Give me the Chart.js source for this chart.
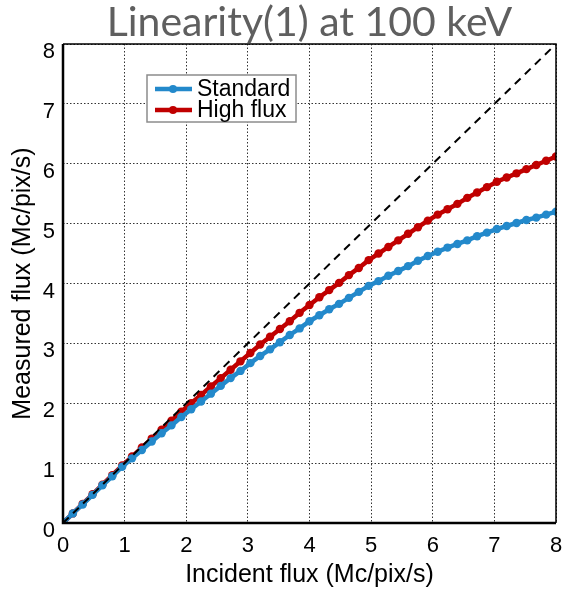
<!DOCTYPE html>
<html>
<head>
<meta charset="utf-8">
<script src="https://cdn.jsdelivr.net/npm/chart.js@4.4.1/dist/chart.umd.min.js"></script>
<style>
  html, body { margin: 0; padding: 0; background: #fff; }
  #wrap { width: 564px; height: 590px; }
</style>
</head>
<body>
<div id="wrap"><canvas id="linChart" width="564" height="590"></canvas></div>
<script>
// incident flux (Mc/pix/s), one sample every 0.16
const incident = [0, 0.16, 0.32, 0.48, 0.64, 0.80, 0.96, 1.12, 1.28, 1.44, 1.60, 1.76, 1.92,
  2.08, 2.24, 2.40, 2.56, 2.72, 2.88, 3.04, 3.20, 3.36, 3.52, 3.68, 3.84, 4.00, 4.16, 4.32,
  4.48, 4.64, 4.80, 4.96, 5.12, 5.28, 5.44, 5.60, 5.76, 5.92, 6.08, 6.24, 6.40, 6.56, 6.72,
  6.88, 7.04, 7.20, 7.36, 7.52, 7.68, 7.84, 8.00];

// measured flux
const standardFlux = [0, 0.16, 0.31, 0.47, 0.63, 0.78, 0.94, 1.08, 1.22, 1.36, 1.50, 1.63, 1.77,
  1.90, 2.03, 2.16, 2.29, 2.42, 2.54, 2.67, 2.79, 2.90, 3.02, 3.14, 3.25, 3.37, 3.47, 3.57,
  3.66, 3.76, 3.86, 3.96, 4.04, 4.13, 4.21, 4.29, 4.38, 4.46, 4.53, 4.60, 4.66, 4.72, 4.79,
  4.85, 4.91, 4.96, 5.01, 5.06, 5.10, 5.15, 5.20];

const highFlux = [0, 0.16, 0.32, 0.48, 0.64, 0.80, 0.96, 1.11, 1.26, 1.41, 1.56, 1.71, 1.86,
  2.00, 2.14, 2.28, 2.42, 2.56, 2.70, 2.84, 2.98, 3.11, 3.24, 3.37, 3.51, 3.64, 3.77, 3.89,
  4.01, 4.14, 4.26, 4.39, 4.50, 4.61, 4.72, 4.83, 4.94, 5.05, 5.15, 5.24, 5.33, 5.43, 5.52,
  5.61, 5.70, 5.77, 5.84, 5.91, 5.98, 6.05, 6.12];

// ideal response (measured = incident)
const idealX = [0, 8];
const idealY = [0, 8];

const seriesNames = ['Standard', 'High flux'];
const seriesColors = ['#2389cb', '#c00000'];

function toPoints(xs, ys) {
  return xs.map((x, i) => ({ x: x, y: ys[i] }));
}

// box round the plot: thick left/bottom, thin top/right
const frame = {
  id: 'frame',
  afterDatasetsDraw(chart) {
    const { ctx, chartArea: a } = chart;
    ctx.save();
    ctx.strokeStyle = '#000';
    ctx.lineWidth = 1.5;
    ctx.beginPath();
    ctx.moveTo(a.left, a.top);
    ctx.lineTo(a.right, a.top);
    ctx.lineTo(a.right, a.bottom);
    ctx.stroke();
    ctx.lineWidth = 2.5;
    ctx.beginPath();
    ctx.moveTo(a.left, a.top);
    ctx.lineTo(a.left, a.bottom);
    ctx.lineTo(a.right, a.bottom);
    ctx.stroke();
    ctx.restore();
  }
};

// legend drawn inside the plot like the original
const insideLegend = {
  id: 'insideLegend',
  afterDraw(chart) {
    const ctx = chart.ctx;
    const x0 = 147, y0 = 75, w = 149, h = 47;
    ctx.save();
    ctx.fillStyle = '#fff';
    ctx.fillRect(x0, y0, w, h);
    ctx.strokeStyle = '#8c8c8c';
    ctx.lineWidth = 1.5;
    ctx.strokeRect(x0, y0, w, h);
    ctx.font = '23px "Liberation Sans", Arial, sans-serif';
    ctx.textBaseline = 'middle';
    chart.data.datasets.slice(0, 2).forEach((ds, i) => {
      const y = y0 + 14 + i * 21;
      ctx.strokeStyle = ds.borderColor;
      ctx.lineWidth = 4.5;
      ctx.beginPath();
      ctx.moveTo(x0 + 8, y);
      ctx.lineTo(x0 + 45, y);
      ctx.stroke();
      ctx.fillStyle = ds.borderColor;
      ctx.beginPath();
      ctx.arc(x0 + 26, y, 4, 0, Math.PI * 2);
      ctx.fill();
      ctx.fillStyle = '#000';
      ctx.fillText(ds.label, x0 + 50, y + 1);
    });
    ctx.restore();
  }
};

const tickFont = { family: '"Liberation Sans", Arial, sans-serif', size: 22 };
const titleFont = { family: '"Liberation Sans", Arial, sans-serif', size: 25 };

new Chart(document.getElementById('linChart'), {
  type: 'scatter',
  data: {
    datasets: [
      {
        label: seriesNames[0],
        data: toPoints(incident, standardFlux),
        showLine: true,
        borderColor: seriesColors[0],
        backgroundColor: seriesColors[0],
        borderWidth: 4.5,
        pointRadius: 4.2,
        pointBorderWidth: 0,
        order: 1
      },
      {
        label: seriesNames[1],
        data: toPoints(incident, highFlux),
        showLine: true,
        borderColor: seriesColors[1],
        backgroundColor: seriesColors[1],
        borderWidth: 4.5,
        pointRadius: 4.2,
        pointBorderWidth: 0,
        order: 2
      },
      {
        label: 'ideal',
        data: toPoints(idealX, idealY),
        showLine: true,
        borderColor: '#000',
        borderWidth: 2,
        borderDash: [8, 6],
        pointRadius: 0,
        order: 0
      }
    ]
  },
  options: {
    responsive: false,
    animation: false,
    layout: { padding: 0 },
    plugins: {
      legend: { display: false },
      tooltip: { enabled: false },
      title: {
        display: true,
        text: 'Linearity(1) at 100 keV',
        color: '#5f5f5f',
        fullSize: false,
        font: { family: 'Lato, "Open Sans", sans-serif', size: 41, weight: 'normal', lineHeight: 1 },
        padding: { top: 2, bottom: 1 }
      }
    },
    scales: {
      x: {
        type: 'linear',
        min: 0,
        max: 8,
        afterFit: s => { s.height = 67; s.paddingLeft = 0; s.paddingRight = 8; },
        ticks: { stepSize: 1, color: '#000', font: tickFont, padding: 10 },
        grid: { color: '#333', lineWidth: 1, drawTicks: false },
        border: { display: false, dash: [1.5, 2] },
        title: { display: true, text: 'Incident flux (Mc/pix/s)', color: '#000', font: titleFont, padding: { top: 0, bottom: 0 } }
      },
      y: {
        type: 'linear',
        min: 0,
        max: 8,
        afterFit: s => { s.width = 63; },
        ticks: { stepSize: 1, color: '#000', font: tickFont, padding: 8, labelOffset: 8 },
        grid: { color: '#333', lineWidth: 1, drawTicks: false },
        border: { display: false, dash: [1.5, 2] },
        title: { display: true, text: 'Measured flux (Mc/pix/s)', color: '#000', font: titleFont, padding: { top: 8, bottom: 0 } }
      }
    }
  },
  plugins: [frame, insideLegend]
});
</script>
</body>
</html>
